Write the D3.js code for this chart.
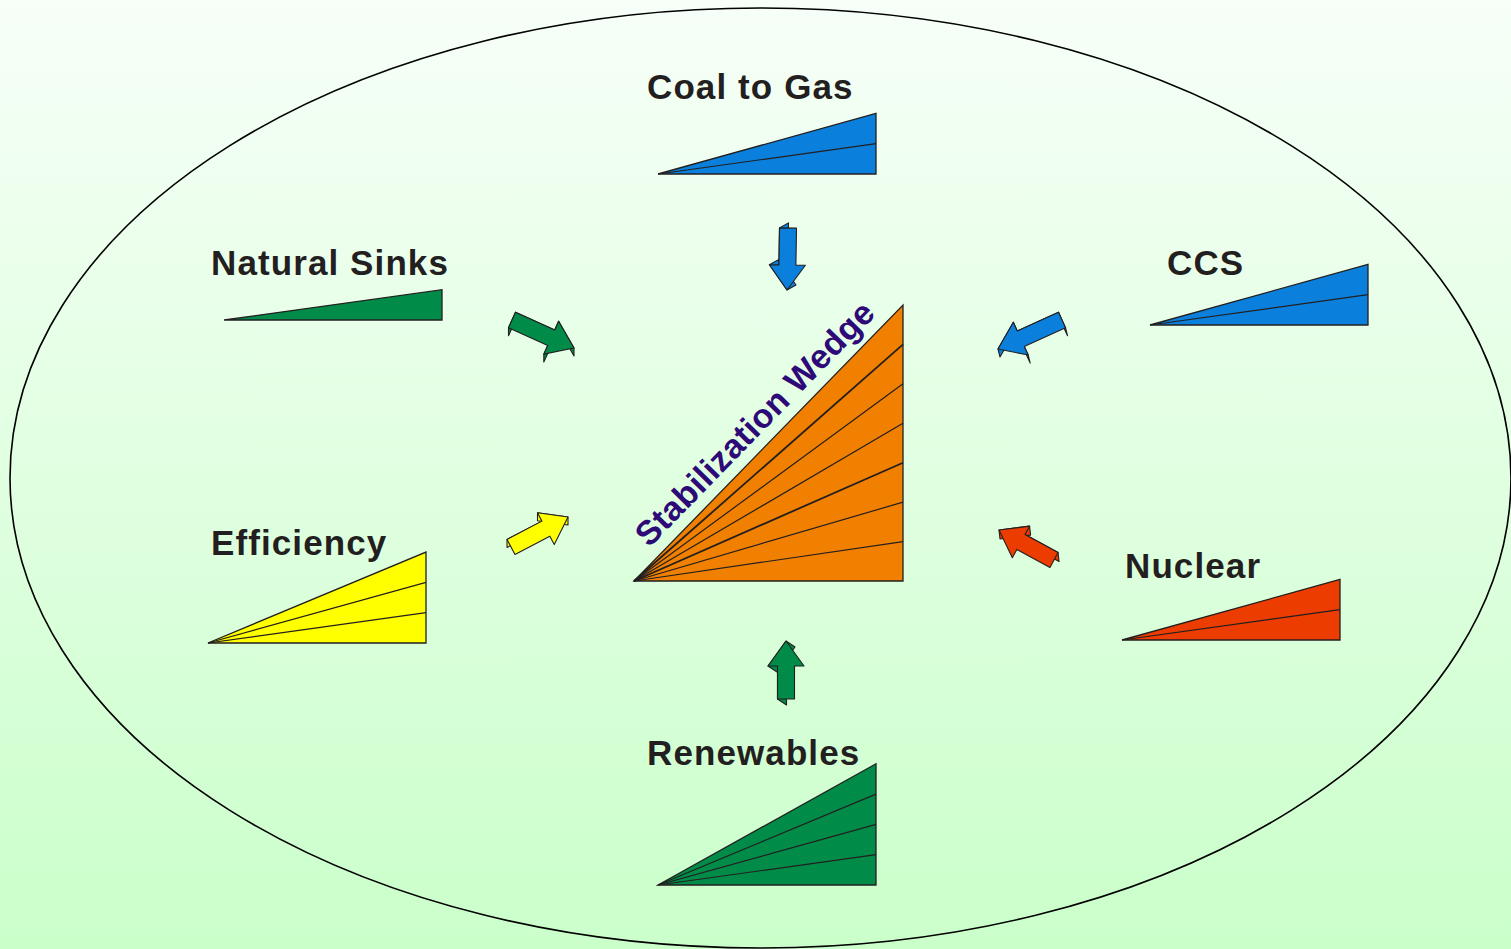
<!DOCTYPE html>
<html>
<head>
<meta charset="utf-8">
<script src="https://cdn.jsdelivr.net/npm/d3@7"></script>
<style>
html, body { margin: 0; padding: 0; overflow: hidden; background: #e6ffe6; }
svg { display: block; }
text { font-family: "Liberation Sans", Arial, sans-serif; font-weight: bold; }
</style>
</head>
<body>
<div id="chart"></div>
<script>
// Options feeding the big wedge
const options = ['Coal to Gas', 'Natural Sinks', 'CCS', 'Efficiency', 'Nuclear', 'Renewables'];
const wedgeCounts = [2, 1, 2, 3, 2, 4];
const optionColors = ['#0a80dc', '#008c48', '#0a80dc', '#ffff00', '#ec3c00', '#008c48'];

// Central wedge
const centralLabel = 'Stabilization Wedge';
const centralStripes = 7;
const centralColor = '#f28000';

// where things sit on the page (apex of each small wedge, label spot, arrow)
const layout = [
  { apex: [658, 174], label: [647, 99],   tail: [788, 228],  tip: [787, 290],  depth: [9, -5] },
  { apex: [224, 320], label: [211, 275],  tail: [512, 320],  tip: [574, 348],  depth: [0, 8] },
  { apex: [1150, 325], label: [1167, 275], tail: [1062, 320], tip: [998, 349],  depth: [2, 8] },
  { apex: [208, 643], label: [211, 555],  tail: [511, 547],  tip: [568, 517],  depth: [0, 8] },
  { apex: [1122, 640], label: [1125, 578], tail: [1054, 560], tip: [999, 530],  depth: [1, 9] },
  { apex: [658, 885], label: [647, 765],  tail: [786, 699],  tip: [786, 641],  depth: [9, 6] }
];
const centralApex = [634, 581];

const W = 1511, H = 949;

const svg = d3.select("#chart")
  .append("svg")
  .attr("width", W)
  .attr("height", H);

// background gradient
const grad = svg.append("defs").append("linearGradient")
  .attr("id", "bg")
  .attr("x1", 0).attr("y1", 0).attr("x2", 0).attr("y2", 1);
grad.append("stop").attr("offset", "0%").attr("stop-color", "#f7fff8");
grad.append("stop").attr("offset", "100%").attr("stop-color", "#caffca");

svg.append("rect")
  .attr("width", W).attr("height", H)
  .attr("fill", "url(#bg)");

svg.append("ellipse")
  .attr("cx", 760.5).attr("cy", 478)
  .attr("rx", 750.5).attr("ry", 470)
  .attr("fill", "none")
  .attr("stroke", "#000")
  .attr("stroke-width", 1.6);

// scales: one wedge unit -> pixel height, wedge width
const smallY = d3.scaleLinear().domain([0, 1]).range([0, 30.3]);
const smallW = 218;
const bigY = d3.scaleLinear().domain([0, centralStripes]).range([0, 276]);
const bigW = 269;

const line = d3.line();

function drawWedge(g, apex, width, n, yScale, color, thick) {
  const right = apex[0] + width;
  g.append("path")
    .attr("d", line([apex, [right, apex[1]], [right, apex[1] - yScale(n)]]) + "Z")
    .attr("fill", color)
    .attr("stroke", "#231f20")
    .attr("stroke-width", 1.3)
    .attr("stroke-linejoin", "miter");
  g.selectAll(".stripe")
    .data(d3.range(1, n))
    .enter().append("path")
    .attr("class", "stripe")
    .attr("d", k => line([apex, [right, apex[1] - yScale(k)]]))
    .attr("stroke", "#231f20")
    .attr("stroke-width", k => thick && thick.includes(k) ? 1.8 : 1.2)
    .attr("fill", "none");
}

// 3D block arrow: flat arrow plus the sides facing the depth direction
function arrowPoints(tail, tip) {
  const dx = tip[0] - tail[0], dy = tip[1] - tail[1];
  const len = Math.hypot(dx, dy);
  const ux = dx / len, uy = dy / len, vx = -uy, vy = ux;
  const sw = 8.5, hw = 18, hl = 25;
  const local = [[0, -sw], [len - hl, -sw], [len - hl, -hw], [len, 0], [len - hl, hw], [len - hl, sw], [0, sw]];
  return local.map(([a, b]) => [tail[0] + a * ux + b * vx, tail[1] + a * uy + b * vy]);
}

function drawArrow(g, tail, tip, depth, color) {
  const pts = arrowPoints(tail, tip);
  const area = d3.polygonArea(pts);
  const sgn = area > 0 ? 1 : -1;
  const sides = [];
  pts.forEach((p, i) => {
    const q = pts[(i + 1) % pts.length];
    const ex = q[0] - p[0], ey = q[1] - p[1];
    const nx = sgn * ey, ny = -sgn * ex;
    const facing = nx * depth[0] + ny * depth[1];
    if (facing > 0) {
      sides.push({ pts: [p, q, [q[0] + depth[0], q[1] + depth[1]], [p[0] + depth[0], p[1] + depth[1]]], facing });
    }
  });
  sides.sort((a, b) => a.facing - b.facing);
  sides.forEach(s => {
    g.append("path")
      .attr("d", line(s.pts) + "Z")
      .attr("fill", color)
      .attr("stroke", "#231f20")
      .attr("stroke-width", 1.1)
      .attr("stroke-linejoin", "round");
  });
  g.append("path")
    .attr("d", line(pts) + "Z")
    .attr("fill", color)
    .attr("stroke", "#231f20")
    .attr("stroke-width", 1.1)
    .attr("stroke-linejoin", "round");
}

// small wedges, labels and arrows
options.forEach((name, i) => {
  const L = layout[i];
  const g = svg.append("g").attr("class", "option");
  drawWedge(g, L.apex, smallW, wedgeCounts[i], smallY, optionColors[i]);
  g.append("text")
    .attr("x", L.label[0])
    .attr("y", L.label[1])
    .attr("font-size", 35)
    .attr("letter-spacing", 1.1)
    .attr("fill", "#231f20")
    .text(name);
  drawArrow(g, L.tail, L.tip, L.depth, optionColors[i]);
});

// central wedge
const center = svg.append("g").attr("class", "central");
drawWedge(center, centralApex, bigW, centralStripes, bigY, centralColor, [3, 6]);

const topPt = [centralApex[0] + bigW, centralApex[1] - bigY(centralStripes)];
const ang = Math.atan2(topPt[1] - centralApex[1], topPt[0] - centralApex[0]) * 180 / Math.PI;
const hyp = Math.hypot(topPt[0] - centralApex[0], topPt[1] - centralApex[1]);
const ux = (topPt[0] - centralApex[0]) / hyp, uy = (topPt[1] - centralApex[1]) / hyp;
const along = 34, off = 12;
const sx = centralApex[0] + along * ux + off * uy;
const sy = centralApex[1] + along * uy - off * ux;

center.append("text")
  .attr("transform", "translate(" + sx + "," + sy + ") rotate(" + ang + ")")
  .attr("font-size", 34)
  .attr("letter-spacing", 0.3)
  .attr("fill", "#2e0a78")
  .text(centralLabel);
</script>
</body>
</html>
